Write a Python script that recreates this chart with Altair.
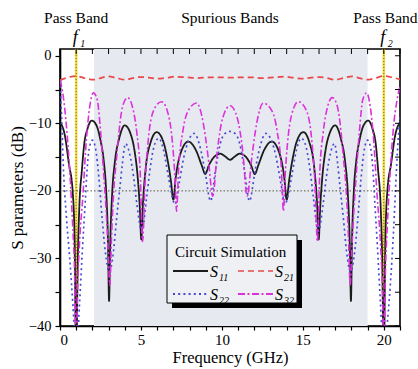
import altair as alt
import pandas as pd

# ---------------- data ----------------
s11_freq = [0, 0.3, 0.55, 0.78, 0.9, 1.0, 1.1, 1.2, 1.35, 1.5, 1.7, 1.96, 2.25, 2.5, 2.7,
            2.85, 2.96, 3.03, 3.1, 3.22, 3.4, 3.65, 4.0, 4.35, 4.6, 4.8, 4.93, 5.02, 5.12, 5.3,
            5.6, 5.97, 6.35, 6.65, 6.85, 7.0, 7.15, 7.4, 7.92, 8.4, 8.75, 8.97, 9.2, 9.55, 9.9,
            10.2, 10.5,
            10.8, 11.1, 11.45, 11.8, 12.03, 12.25, 12.6, 13.08, 13.6, 13.85, 14.0, 14.15, 14.35,
            14.65, 15.03, 15.4, 15.7, 15.88, 15.98, 16.07, 16.2, 16.4, 16.65, 17.0, 17.35, 17.6,
            17.78, 17.9, 17.97, 18.04, 18.15, 18.3, 18.5, 18.75, 19.04, 19.3, 19.5, 19.65, 19.8,
            19.9, 20.0, 20.1, 20.22, 20.45, 20.7, 21.0]
s11_db = [-9.8, -11.8, -16, -20, -27, -45, -30, -22, -17, -13, -10.8, -9.6, -10.3, -12.5, -15.5,
          -20, -27, -36.3, -28, -20.5, -15.5, -12.3, -10.3, -11.5, -14, -18, -22.5, -27.2, -22, -16.5,
          -12.8, -11.3, -12.5, -15.5, -18.5, -21.3, -18, -14.8, -12.7, -14, -16.2, -17.5, -16.2, -14.9, -14.5,
          -14.9, -15.4,
          -14.9, -14.5, -14.9, -16.2, -17.5, -16.2, -14, -12.7, -14.8, -18, -21.3, -18.5, -15.5,
          -12.5, -11.3, -12.8, -16.5, -22, -27.2, -22.5, -18, -14, -11.5, -10.3, -12.3, -15.5,
          -20.5, -28, -36.3, -27, -20, -15.5, -12.5, -10.3, -9.6, -10.8, -13, -17, -22,
          -30, -45, -27, -20, -16, -11.8, -9.9]

s21_freq = [0, 0.5, 1.0, 1.5, 2.05, 2.5, 2.95, 3.5, 4.0, 4.5, 4.95, 5.5, 6.0, 6.6, 7.1, 7.8, 8.5,
            9.2, 10.0, 10.5, 11.0, 11.8, 12.5, 13.2, 13.9, 14.4, 15.0, 15.5, 16.05, 16.5, 17.0,
            17.5, 18.05, 18.5, 18.95, 19.5, 20.0, 20.5, 21.0]
s21_db = [-3.6, -3.2, -3.0, -3.3, -3.55, -3.3, -3.05, -3.3, -3.55, -3.3, -3.15, -3.25, -3.4, -3.25,
          -3.1, -3.2, -3.3, -3.2, -3.2, -3.25, -3.2, -3.2, -3.3, -3.2, -3.1, -3.25, -3.4, -3.25,
          -3.15, -3.3, -3.55, -3.3, -3.05, -3.3, -3.55, -3.3, -3.0, -3.2, -3.5]

s22_freq = [0, 0.1, 0.2, 0.4, 0.6, 0.8, 1.0, 1.2, 1.4, 1.55, 1.67, 1.8, 2.0, 2.2, 2.4,
            2.6, 2.8, 3.05, 3.3, 3.5, 3.7, 3.85, 4.05, 4.3, 4.55, 4.75, 5.05, 5.35, 5.55, 5.8,
            6.1, 6.4, 6.7, 6.9, 7.1, 7.35, 7.65, 7.95, 8.3, 8.65, 8.95, 9.3, 9.6, 9.9, 10.2,
            10.5,
            10.8, 11.1, 11.4, 11.7, 12.05, 12.35, 12.7, 13.05, 13.35, 13.65, 13.9, 14.1, 14.3,
            14.6, 14.9, 15.2, 15.45, 15.65, 15.95, 16.25, 16.45, 16.7, 16.95, 17.15, 17.3, 17.5,
            17.7, 17.95, 18.2, 18.4, 18.6, 18.8, 19.0, 19.2, 19.33, 19.45, 19.6, 19.8, 20.0,
            20.2, 20.4, 20.6, 20.8, 20.9, 21.0]
s22_db = [-4.5, -9, -16, -24, -30, -37, -45, -37, -28, -22, -17, -13.8, -12.5, -13.8, -18,
          -24, -29, -32, -29, -24, -19.5, -16, -13, -14.5, -18, -22, -26, -21, -17, -13.5,
          -12.2, -14, -18, -20.5, -22, -19, -15, -12.5, -11.5, -13.5, -17, -21.5, -17, -13, -11.5,
          -11.2,
          -11.5, -13, -17, -21.5, -17, -13.5, -11.5, -12.5, -15, -19, -22, -20.5, -18,
          -14, -12.2, -13.5, -17, -21, -26, -22, -18, -14.5, -13, -16, -19.5, -24,
          -29, -32, -29, -24, -18, -13.8, -12.5, -13.8, -17, -22, -28, -37, -45,
          -40, -34, -26, -16, -12, -9]

s32_freq = [0, 0.2, 0.4, 0.6, 0.78, 0.9, 1.0, 1.08, 1.2, 1.42, 1.63, 1.84, 2.06, 2.3, 2.5,
            2.7, 2.85, 2.98, 3.08, 3.18, 3.32, 3.5, 3.7, 3.9, 4.18, 4.5, 4.75, 4.95, 5.1, 5.25,
            5.45, 5.8, 6.28, 6.7, 6.95, 7.1, 7.2, 7.32, 7.6, 8.0, 8.44, 8.85, 9.15, 9.44, 9.72,
            10.05, 10.5,
            10.95, 11.28, 11.56, 11.85, 12.15, 12.56, 13.0, 13.4, 13.68, 13.8, 13.9, 14.05, 14.3,
            14.72, 15.2, 15.55, 15.75, 15.9, 16.05, 16.25, 16.5, 16.82, 17.1, 17.3, 17.5, 17.68,
            17.82, 17.92, 18.02, 18.15, 18.3, 18.5, 18.7, 18.94, 19.16, 19.37, 19.58, 19.8, 19.92,
            20.0, 20.1, 20.22, 20.4, 20.6, 20.8, 21.0]
s32_db = [-3.6, -6, -10.5, -17, -25, -32, -45, -35, -28, -20.5, -12.4, -7.5, -5.5, -6.5, -11,
          -17.5, -23, -29, -34, -27, -20, -15, -10, -7.2, -6.2, -7.8, -11.5, -17, -27.5, -19,
          -12.5, -8, -6.8, -8.8, -13, -18, -23, -17, -11, -7.8, -7.0, -10, -15, -20.8, -14,
          -9.2, -7.4,
          -9.2, -14, -20.8, -15, -10, -7.0, -7.8, -11, -17, -23, -18, -13, -8.8,
          -6.8, -8, -12.5, -19, -27.5, -17, -11.5, -7.8, -6.2, -7.2, -10, -15, -20,
          -27, -34, -29, -23, -17.5, -11, -6.5, -5.5, -7.5, -12.4, -20.5, -28, -35,
          -45, -32, -25, -17, -10.5, -6.8, -4.5]

series_names = ["S11", "S21", "S22", "S32"]
series_subscripts = ["11", "21", "22", "32"]
series_colors = ["#1c1c1c", "#e84848", "#4848d0", "#dc32dc"]
series_dash = [[1, 0], [6, 4], [2, 3.2], [7, 2.5, 2, 2.5]]
series_width = [1.8, 1.6, 2.2, 2.0]
legend_title = "Circuit Simulation"

passband_freq = [1, 20]
spurious_start, spurious_end = 2.1, 19.0
ref_level_db = [-20]
band_label_text = ["Pass Band", "Spurious Bands", "Pass Band"]
band_label_freq = [1, 10.5, 20.1]
f_label_sub = ["1", "2"]
top_tick_freq = list(range(0, 22))
right_tick_db = [-40, -35, -30, -25, -20, -15, -10, -5, 0]
x_tick_values = list(range(0, 22))
y_tick_values = [-40, -35, -30, -25, -20, -15, -10, -5, 0]

# ---------------- build tables ----------------
rows = []
for name, fs, ds in zip(series_names,
                        [s11_freq, s21_freq, s22_freq, s32_freq],
                        [s11_db, s21_db, s22_db, s32_db]):
    for f, d in zip(fs, ds):
        rows.append({"freq": f, "db": d, "series": name})
df = pd.DataFrame(rows)

W, H = 340, 277
SERIF = "Liberation Serif"

xscale = alt.Scale(domain=[0, 21], nice=False, zero=False)
yscale = alt.Scale(domain=[-40, 1], nice=False, zero=False)

xaxis = alt.Axis(values=x_tick_values, labelExpr="datum.value % 5 == 0 && datum.value <= 20 ? datum.label : ''",
                 tickSize=4, labelPadding=2, labelFontSize=15, title="Frequency (GHz)",
                 titleFontSize=16.5, titleFontWeight="normal", titleY=36, titleBaseline="alphabetic")
yaxis = alt.Axis(values=y_tick_values, labelExpr="datum.value % 10 == 0 ? datum.label : ''",
                 tickSize=5, labelPadding=4, labelFontSize=14.5, title="S parameters (dB)",
                 titleFontSize=17, titleFontWeight="normal", titleX=-43, titleY=H / 2,
                 titleAngle=270, titleAlign="center", titleBaseline="middle")

X = lambda field: alt.X(field, scale=xscale, axis=xaxis)
Y = lambda field: alt.Y(field, scale=yscale, axis=yaxis)

shade = alt.Chart(pd.DataFrame({"x0": [spurious_start], "x1": [spurious_end]})).mark_rect(
    color="#e6eaf0").encode(
    x=X("x0:Q"), x2="x1:Q",
    y=alt.value(0), y2=alt.value(H))

pb_df = pd.DataFrame({"freq": passband_freq, "sub": f_label_sub})
vline_y = alt.Chart(pb_df).mark_rule(color="#f0d838", strokeWidth=2.5).encode(x=X("freq:Q"))
vline_d = alt.Chart(pb_df).mark_rule(color="#7a6a10", strokeWidth=1, strokeDash=[1, 2]).encode(x=X("freq:Q"))

hline = alt.Chart(pd.DataFrame({"db": ref_level_db})).mark_rule(
    color="#55553a", strokeWidth=1, strokeDash=[1.5, 2]).encode(y=Y("db:Q"))

lines = alt.Chart(df).mark_line(clip=True, interpolate="monotone").encode(
    x=X("freq:Q"),
    y=Y("db:Q"),
    color=alt.Color("series:N", scale=alt.Scale(domain=series_names, range=series_colors), legend=None),
    strokeDash=alt.StrokeDash("series:N", scale=alt.Scale(domain=series_names, range=series_dash), legend=None),
    strokeWidth=alt.StrokeWidth("series:N", scale=alt.Scale(domain=series_names, range=series_width),
                                legend=None),
)

# ---------------- legend (boxed, with drop shadow) ----------------
LX, LY, LW, LH, SH = 107, 186, 130, 68, 5
one = pd.DataFrame({"a": [0]})
legend_layers = [
    alt.Chart(one).mark_rect(color="black").encode(
        x=alt.value(LX + SH), x2=alt.value(LX + LW + SH), y=alt.value(LY + SH), y2=alt.value(LY + LH + SH)),
    alt.Chart(one).mark_rect(fill="#eef0f3", stroke="black", strokeWidth=1).encode(
        x=alt.value(LX), x2=alt.value(LX + LW), y=alt.value(LY), y2=alt.value(LY + LH)),
    alt.Chart(one).mark_text(font=SERIF, fontSize=15, align="left", baseline="alphabetic", color="black").encode(
        x=alt.value(LX + 8), y=alt.value(LY + 22), text=alt.value(legend_title)),
]
for i, (name, sub, colr, dash, sw) in enumerate(zip(series_names, series_subscripts, series_colors,
                                                    series_dash, series_width)):
    col, row = i % 2, i // 2
    x1 = LX + 6 + col * 65
    ly = LY + 36 + row * 23
    legend_layers.append(alt.Chart(one).mark_rule(color=colr, strokeDash=dash, strokeWidth=sw).encode(
        x=alt.value(x1), x2=alt.value(x1 + 35), y=alt.value(ly)))
    legend_layers.append(alt.Chart(one).mark_text(font=SERIF, fontSize=16, fontStyle="italic", align="left",
                                                  baseline="alphabetic", color="black").encode(
        x=alt.value(x1 + 37), y=alt.value(ly + 6), text=alt.value("S")))
    legend_layers.append(alt.Chart(one).mark_text(font=SERIF, fontSize=10, fontStyle="italic", align="left",
                                                  baseline="alphabetic", color="black").encode(
        x=alt.value(x1 + 46), y=alt.value(ly + 10), text=alt.value(sub)))

top_ticks = alt.Chart(pd.DataFrame({"f": top_tick_freq})).mark_rule(color="black", strokeWidth=1).encode(
    x=X("f:Q"), y=alt.value(0), y2=alt.value(5))
right_ticks = alt.Chart(pd.DataFrame({"d": right_tick_db})).mark_rule(color="black", strokeWidth=1).encode(
    y=Y("d:Q"), x=alt.value(W - 5), x2=alt.value(W))

band_labels = alt.Chart(pd.DataFrame({"freq": band_label_freq, "t": band_label_text})).mark_text(
    font=SERIF, fontSize=15.5, baseline="alphabetic", color="black").encode(
    x=X("freq:Q"), y=alt.value(-26), text="t:N")

f_main = alt.Chart(pb_df).mark_text(font=SERIF, fontSize=18, fontStyle="italic", baseline="alphabetic",
                                    color="black", dx=-1).encode(
    x=X("freq:Q"), y=alt.value(-6), text=alt.value("f"))
f_sub = alt.Chart(pb_df).mark_text(font=SERIF, fontSize=10, fontStyle="italic", baseline="alphabetic",
                                   align="left", color="black", dx=4).encode(
    x=X("freq:Q"), y=alt.value(-2), text="sub:N")

chart = alt.layer(shade, vline_y, vline_d, hline, lines, *legend_layers, top_ticks, right_ticks,
                  band_labels, f_main, f_sub).properties(
    width=W, height=H,
    autosize=alt.AutoSizeParams(type="none"),
    padding={"left": 60, "top": 49, "right": 18, "bottom": 43},
    background="white",
).configure_axis(
    labelFont=SERIF, titleFont=SERIF, grid=False, domainColor="black", domainWidth=1.6,
    tickColor="black", tickWidth=1.2, labelColor="black", titleColor="black",
).configure_view(stroke="black", strokeWidth=1.6)

chart.save("out.html", embed_options={"renderer": "svg", "actions": False})
